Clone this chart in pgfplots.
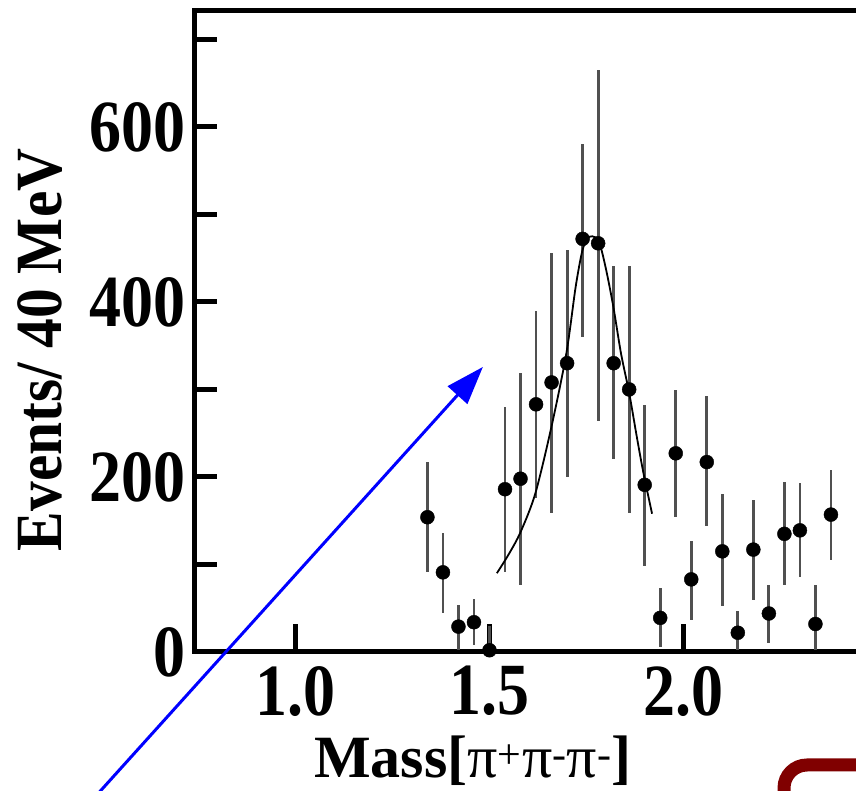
\documentclass[border=0pt]{standalone}
\usepackage{fontspec}
\setmainfont{Liberation Serif}
\usepackage{pgfplots}
\pgfplotsset{compat=1.18}
\usepackage{pgfplotstable}
\usetikzlibrary{arrows.meta}
\definecolor{errgray}{RGB}{80,80,80}
\definecolor{boxred}{RGB}{128,0,0}
\newcommand{\tl}[1]{\scalebox{1}[1.15]{#1}}

\pgfplotstableread{
x y ep em
1.34 154 63 63
1.38 91 45 46
1.42 29 25 27
1.46 34 27 26
1.50 2 28 2
1.54 186 94 95
1.58 198 121 122
1.62 283 107 107
1.66 308 148 149
1.70 330 129 130
1.74 472 108 112
1.78 467 198 203
1.82 330 111 110
1.86 300 141 141
1.90 191 91 93
1.94 39 34 33
1.98 227 72 73
2.02 83 44 46
2.06 217 76 73
2.10 115 65 63
2.14 22 25 20
2.18 117 57 58
2.22 44 32 34
2.26 135 59 58
2.30 139 54 53
2.34 32 44 30
2.38 157 51 52
}\datatab

\pgfplotstableread{
x y
1.519 90
1.550 112
1.580 137
1.618 181
1.660 258
1.698 341
1.722 417
1.739 458
1.752 472
1.765 475
1.782 469
1.799 440
1.819 395
1.839 341
1.860 296
1.880 245
1.897 204
1.919 158
}\fittab

\begin{document}
\begin{tikzpicture}
\begin{axis}[
  at={(0pt,0pt)}, anchor=south west,
  scale only axis, width=682.5pt, height=641.5pt,
  xmin=0.741, xmax=2.5, ymin=0, ymax=733,
  axis line style={line width=5pt},
  tick align=inside, xtick pos=bottom, ytick pos=left,
  xtick={1.0,1.5,2.0}, xticklabels={\tl{1.0},\tl{1.5},\tl{2.0}},
  ytick={0,100,...,700}, yticklabels={\tl{0},,\tl{200},,\tl{400},,\tl{600},},
  major tick length=22pt,
  tick style={line width=5pt, black},
  xtick style={/pgfplots/major tick length=28pt, line width=4.5pt},
  ticklabel style={font=\fontsize{64}{70}\selectfont\bfseries, inner sep=0pt},
  yticklabel style={xshift=-9pt},
  xticklabel style={yshift=-14pt},
  clip=false,
]
\addplot[only marks, mark=*, mark size=7pt, black,
  error bars/.cd, y dir=both, y explicit, error mark=none,
  error bar style={line width=2.8pt, errgray}]
  table[x=x, y=y, y error plus=ep, y error minus=em] {\datatab};
\addplot[black, line width=1.8pt, smooth] table[x=x, y=y] {\fittab};
\coordinate (A0) at (axis cs:0.393,-210);
\coordinate (A1) at (axis cs:1.483,325.7);
\end{axis}
\draw[blue, line width=3pt, -{Triangle[length=38pt, width=26pt]}] (A0) -- (A1);
\node[rotate=90, inner sep=0pt, font=\fontsize{66}{70}\selectfont\bfseries] at (-155pt,302pt) {\scalebox{0.9}[1]{Events/ 40 MeV}};
\node[anchor=base, inner sep=0pt, font=\fontsize{60}{66}\selectfont\bfseries] at (278pt,-126pt) {Mass[{\mdseries π\textsuperscript{+}π\textsuperscript{-}π\textsuperscript{-}}]};
\draw[boxred, line width=13pt, rounded corners=23pt] (589pt,-200pt) -- (589pt,-113pt) -- (720pt,-113pt);
\pgfresetboundingbox
\path[use as bounding box] (-195pt,-139pt) rectangle (661pt,652pt);
\end{tikzpicture}
\end{document}
